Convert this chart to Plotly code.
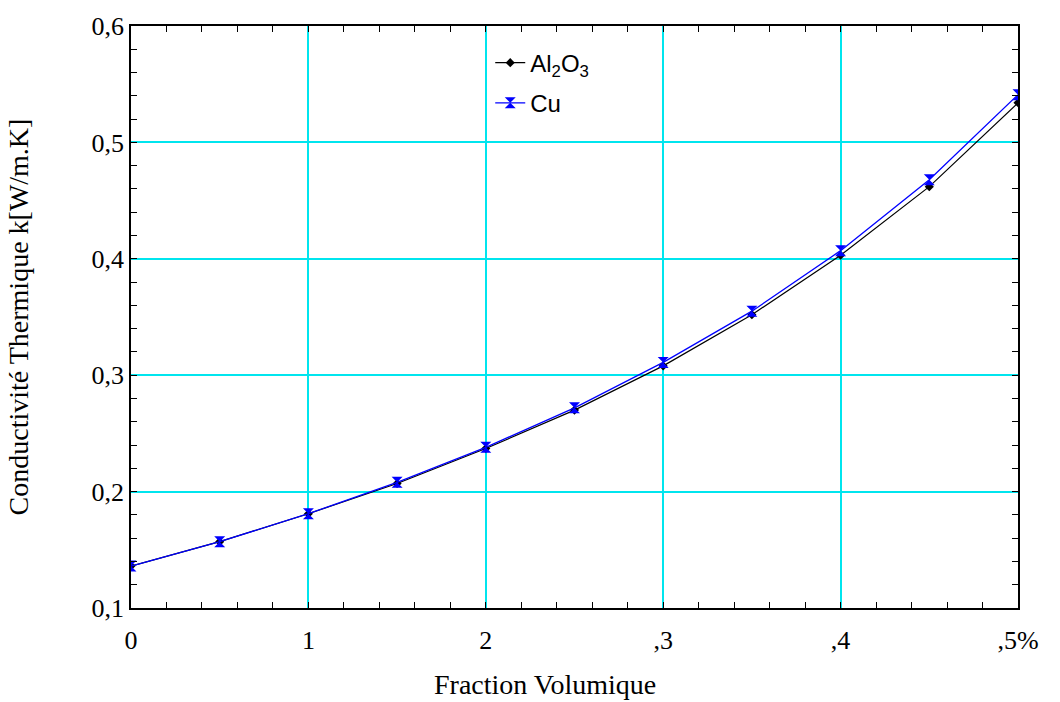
import plotly.graph_objects as go

fraction = [0, 0.5, 1, 1.5, 2, 2.5, 3, 3.5, 4, 4.5, 5]
k_al2o3 = [0.136, 0.157, 0.181, 0.207, 0.237, 0.270, 0.308, 0.352, 0.403, 0.462, 0.534]
k_cu = [0.136, 0.157, 0.181, 0.208, 0.238, 0.272, 0.311, 0.355, 0.407, 0.468, 0.541]

x_tickvals = [0, 1, 2, 3, 4, 5]
x_ticktext = ["0", "1", "2", ",3", ",4", ",5%"]
y_tickvals = [0.1, 0.2, 0.3, 0.4, 0.5, 0.6]
y_ticktext = ["0,1", "0,2", "0,3", "0,4", "0,5", "0,6"]

x_minor = [round(i * 0.2, 2) for i in range(26) if i % 5 != 0]
y_minor = [round(0.1 + i * 0.02, 3) for i in range(26) if i % 5 != 0]

fig = go.Figure()
fig.add_trace(go.Scatter(
    x=fraction, y=k_al2o3, mode="lines+markers", name="Al<sub>2</sub>O<sub>3</sub>",
    legendgroup="a",
    line=dict(color="black", width=1.2),
    marker=dict(symbol="diamond", size=7, color="black"),
))
fig.add_trace(go.Scatter(
    x=fraction, y=k_cu, mode="lines+markers", name="Cu",
    legendgroup="b",
    line=dict(color="#0000ff", width=1.3),
    marker=dict(symbol="hourglass", size=11, color="#0000ff"),
))

tick_font = dict(family="Liberation Serif, Times New Roman, serif", size=26, color="black")
title_font = dict(family="Liberation Serif, Times New Roman, serif", size=28, color="black")
grid_c = "#00e5ee"

fig.update_xaxes(
    range=[0, 5], tickmode="array", tickvals=x_tickvals, ticktext=x_ticktext,
    showgrid=True, gridcolor=grid_c, gridwidth=1.5,
    showline=True, linecolor="black", linewidth=1.5, mirror="ticks",
    ticks="inside", ticklen=6, tickcolor="black", ticklabelstandoff=8,
    minor=dict(tickmode="array", tickvals=x_minor, ticks="inside", ticklen=6,
               tickcolor="black", showgrid=False),
    tickfont=tick_font, zeroline=False,
)
fig.update_yaxes(
    range=[0.1, 0.6], tickmode="array", tickvals=y_tickvals, ticktext=y_ticktext,
    showgrid=True, gridcolor=grid_c, gridwidth=1.5,
    showline=True, linecolor="black", linewidth=1.5, mirror="ticks",
    ticks="inside", ticklen=6, tickcolor="black",
    minor=dict(tickmode="array", tickvals=y_minor, ticks="inside", ticklen=6,
               tickcolor="black", showgrid=False),
    tickfont=tick_font, zeroline=False,
    title=dict(text="Conductivité Thermique k[W/m.K]", font=title_font, standoff=55),
)

fig.add_annotation(
    text="Fraction Volumique", xref="paper", yref="paper",
    x=0.467, y=-0.131, xanchor="center", yanchor="middle",
    showarrow=False, font=title_font,
)

fig.update_layout(
    width=1060, height=702,
    margin=dict(l=131, r=42, t=20, b=94),
    plot_bgcolor="white", paper_bgcolor="white",
    legend=dict(
        x=0.405, y=0.975, xanchor="left", yanchor="top",
        bgcolor="rgba(0,0,0,0)",
        font=dict(family="Liberation Sans, Arial, sans-serif", size=24, color="black"),
        tracegroupgap=6,
    ),
)

fig.write_html("out.html")
